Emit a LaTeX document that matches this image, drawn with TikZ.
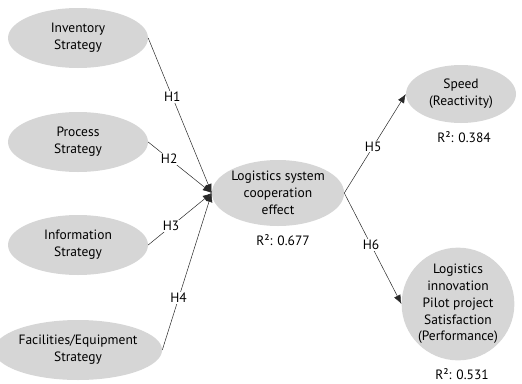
\documentclass[tikz,border=0pt]{standalone}
\usepackage{fontspec}
\setmainfont{PT Sans}
\usetikzlibrary{shapes.geometric,arrows.meta}
\definecolor{ellfill}{RGB}{214,214,214}
\definecolor{linecol}{RGB}{40,40,40}
\tikzset{
  ell/.style={ellipse, fill=ellfill, inner sep=0pt, align=center, font=\fontsize{13.5}{16.8}\selectfont},
  hlab/.style={fill=white, inner sep=1pt, font=\fontsize{13.5}{15}\selectfont},
  rlab/.style={font=\fontsize{13.5}{15}\selectfont},
  conn/.style={draw=linecol, line width=0.5pt, -{Latex[length=9pt,width=7pt]}}
}
\begin{document}
\begin{tikzpicture}[x=1pt,y=-1pt]
\useasboundingbox (0,0) rectangle (522,383);
\node[ell, minimum width=140, minimum height=60] (inv) at (78,38) {Inventory\\Strategy};
\node[ell, minimum width=140, minimum height=60] (proc) at (78,142) {Process\\Strategy};
\node[ell, minimum width=140, minimum height=60] (info) at (78,245) {Information\\Strategy};
\node[ell, minimum width=140, minimum height=60] (fac) at (78,350) {Facilities/Equipment\\Strategy};
\node[ell, minimum width=130, minimum height=66] (lsc) at (278,193) {Logistics system\\cooperation\\effect};
\node[rlab] (r1) at (283,240) {R²: 0.677};
\node[ell, minimum width=110, minimum height=58] (spd) at (461,94) {Speed\\(Reactivity)};
\node[rlab] (r2) at (464,137) {R²: 0.384};
\node[ell, minimum width=106, minimum height=94] (lip) at (458,304) {Logistics\\innovation\\Pilot project\\Satisfaction\\(Performance)};
\node[rlab] (r3) at (462,374) {R²: 0.531};
\draw[conn] (inv.east) -- node[hlab, pos=0.38] (h1) {H1} (lsc.west);
\draw[conn] (proc.east) -- node[hlab, pos=0.33] (h2) {H2} (lsc.west);
\draw[conn] (info.east) -- node[hlab, pos=0.36] (h3) {H3} (lsc.west);
\draw[conn] (fac.east) -- node[hlab, pos=0.33] (h4) {H4} (lsc.west);
\draw[conn] (lsc.east) -- node[hlab, pos=0.47] (h5) {H5} (spd.west);
\draw[conn] (lsc.east) -- node[hlab, pos=0.47] (h6) {H6} (lip.west);
\end{tikzpicture}
\end{document}
